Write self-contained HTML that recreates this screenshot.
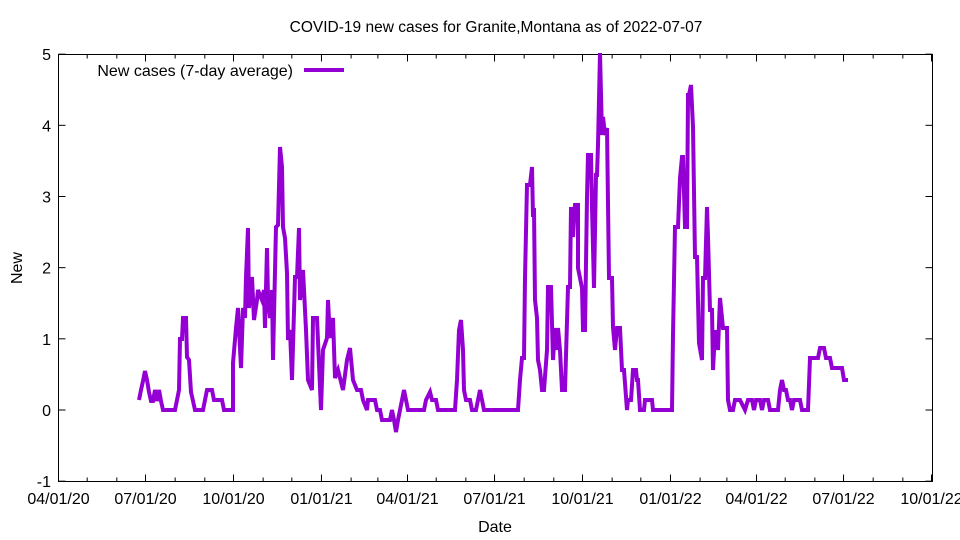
<!DOCTYPE html>
<html><head><meta charset="utf-8"><style>
body{margin:0;background:#fff}
svg{display:block;font-family:"Liberation Sans",sans-serif}
</style></head><body>
<svg id="s" width="960" height="540" viewBox="0 0 960 540" xmlns="http://www.w3.org/2000/svg">
<rect width="960" height="540" fill="#fff"/>
<text x="496" y="32" font-size="15.5" text-anchor="middle">COVID-19 new cases for Granite,Montana as of 2022-07-07</text>
<g id="ticks" stroke="#000" stroke-width="1"></g>
<g id="labels" font-size="16"></g>
<rect x="58.5" y="54.5" width="874" height="427" fill="none" stroke="#000" stroke-width="1"/>
<text x="495" y="532" font-size="16" text-anchor="middle">Date</text>
<text x="22" y="268" font-size="16" text-anchor="middle" transform="rotate(-90 22 268)">New</text>
<text x="293" y="76" font-size="16" text-anchor="end">New cases (7-day average)</text>
<line x1="304" y1="70" x2="344" y2="70" stroke="#9400d3" stroke-width="4"/>
<polyline fill="none" stroke="#9400d3" stroke-width="4" stroke-linejoin="miter" points="
139,400 141,390 143,381 145,371 147,380 149,392 151,401 153,401 155,390 157,401 159,390 161,401 163,410 175,410 177,400 179,390 180,339 182,339 183,318 186,318 187,357 189,360 191,392 193,401 195,410 203,410 205,400 207,390 212,390 214,400 222,400 224,410 233,410
233,363 236,328 238,308 241,368 243,308 245,318 246,277 248,228 249,308 252,277 254,320 257,300 258,290 262,300 264,290 265,328 267,248 268,298 270,318 272,290 273,360 276,227 278,225 280,147 282,167 283,227 285,238 287,273 288,340 290,330 292,380 295,277 297,277 299,228 300,300 303,270 306,330 308,380 312,390 313,318 317,318 321,410 323,350 327,338 328,300 330,338 333,318 335,378 338,370 343,390 347,360 350,348 353,380 357,390 361,390 363,400 367,410
368,400 375,400 377,410 380,410 382,420 390,420 392,410 394,420 396,432 398,420 400,410 402,400 404,390 406,400 408,410 424,410 426,400 430,392 432,400 436,400 438,410 455,410 457,380 459,330 461,320 463,350 464,390 466,400 470,400 472,410 476,410 478,400 480,390 482,400 484,410 518,410
520,380 522,358 524,358 525,278 527,185 530,185 532,167 533,217 534,208 535,300 537,318 538,360 540,370 542,390 544,390 547,350 548,287 551,287 553,360 555,328 557,350 558,328 560,350 562,390 565,390 568,287 570,287 571,207 573,237 575,205 578,205 578,268 582,288 583,330 585,330 587,197 588,155 591,155 592,207 594,288 596,175 597,175 598,145 600,53 602,135 603,117 605,135 607,128 609,278 612,278 613,327 615,350 617,328 620,328 622,370 624,370 627,410 628,400 631,400 633,370 636,370 637,380 638,380 640,410 644,410 645,400 652,400 653,410 672,410 673,335 675,227 678,227 680,178 682,157 683,157 685,227 687,227 688,95 689,95 691,85 693,127 695,257 697,257 699,343 702,360 703,278 705,278 707,207 708,237 710,310 712,310 713,370 715,332 717,332 718,350 720,298 723,328 727,328 728,400 730,410 733,410 735,400 740,400
745,410 748,400 752,400 754,410 756,400 760,400 762,410 764,400 768,400 770,410 778,410 780,390 782,380 784,390 786,390 788,400 790,400 792,410 794,400 796,400 798,400 800,400 802,410 808,410 810,358 818,358 820,348 824,348 826,358 830,358 832,368 842,368 844,380 848,380"/>
</svg>
<script>
(function(){
var NS="http://www.w3.org/2000/svg",t=document.getElementById("ticks"),l=document.getElementById("labels");
function ln(x1,y1,x2,y2){var e=document.createElementNS(NS,"line");e.setAttribute("x1",x1);e.setAttribute("y1",y1);e.setAttribute("x2",x2);e.setAttribute("y2",y2);t.appendChild(e);}
function tx(x,y,s,a){var e=document.createElementNS(NS,"text");e.setAttribute("x",x);e.setAttribute("y",y);e.setAttribute("text-anchor",a);e.textContent=s;l.appendChild(e);}
var d0=Date.UTC(2020,3,1),k=0.9562;
for(var m=0;m<=30;m++){var y=2020+Math.floor((3+m)/12),mo=(3+m)%12;
var d=(Date.UTC(y,mo,1)-d0)/864e5,x=58.5+d*k,maj=(m%3==0),L=maj?7:4;
ln(x,481.5,x,481.5-L);ln(x,54.5,x,54.5+L);
if(maj){var mm=("0"+(mo+1)).slice(-2);tx(x,504,mm+"/01/"+String(y).slice(2),"middle");}}
for(var v=-1;v<=5;v++){var yy=410-v*71.17;ln(58.5,yy,65.5,yy);ln(932.5,yy,925.5,yy);tx(51,yy+6,String(v),"end");}
})();
</script>
</body></html>
